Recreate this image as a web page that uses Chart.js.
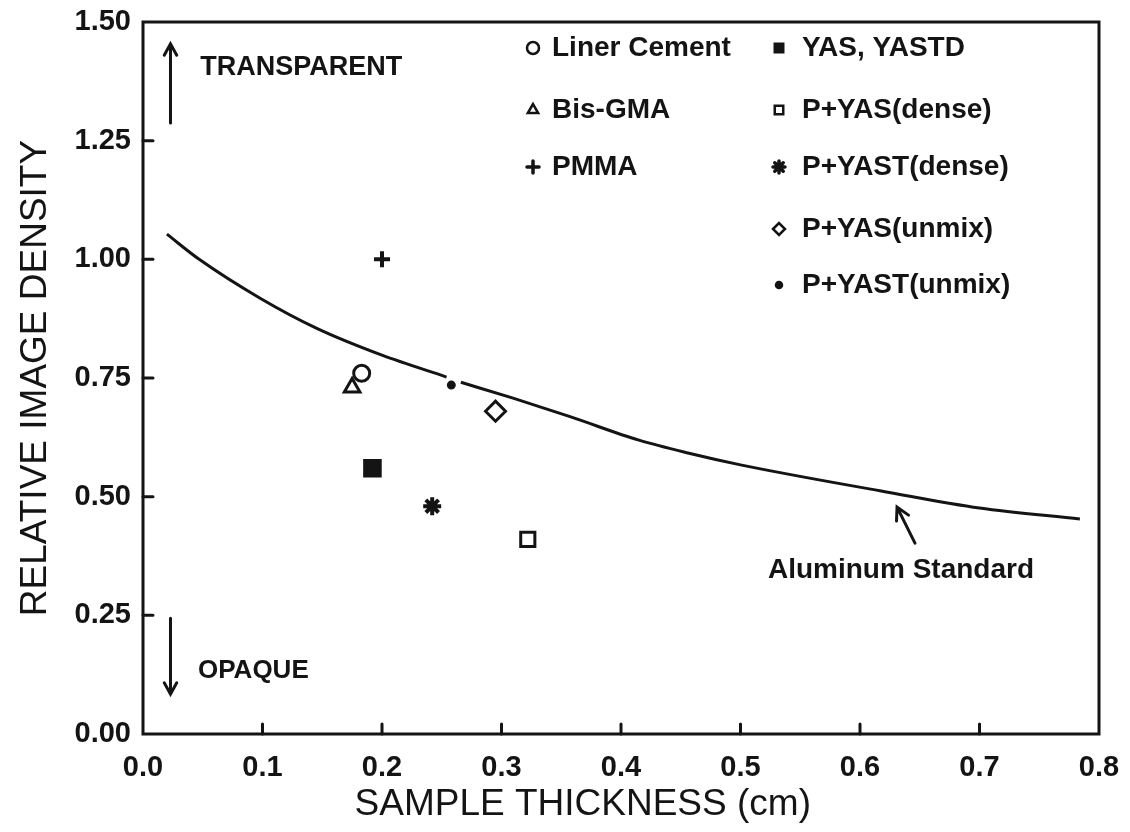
<!DOCTYPE html>
<html>
<head>
<meta charset="utf-8">
<title>Relative Image Density vs Sample Thickness</title>
<script src="https://cdn.jsdelivr.net/npm/chart.js@4.4.0/dist/chart.umd.min.js"></script>
<style>
  html, body { margin: 0; padding: 0; background: #fff; }
  #wrap { width: 1130px; height: 832px; }
</style>
</head>
<body>
<div id="wrap"><canvas id="densityChart" width="1130" height="832"></canvas></div>
<script>
// measured samples
const sampleNames = ["Liner Cement", "Bis-GMA", "PMMA", "YAS, YASTD", "P+YAS(dense)", "P+YAST(dense)", "P+YAS(unmix)", "P+YAST(unmix)"];
const sampleThickness = [0.183, 0.175, 0.200, 0.192, 0.322, 0.242, 0.295, 0.258];
const sampleDensity = [0.76, 0.73, 1.00, 0.56, 0.41, 0.48, 0.68, 0.735];

// aluminum step-wedge reference curve (null = break in the pen line)
const aluminumThickness = [0.02, 0.047, 0.098, 0.145, 0.20, 0.254, 0.26, 0.266, 0.309, 0.358, 0.415, 0.456, 0.50, 0.622, 0.70, 0.784];
const aluminumDensity = [1.053, 1.00, 0.918, 0.855, 0.798, 0.752, null, 0.741, 0.708, 0.668, 0.619, 0.592, 0.567, 0.51, 0.476, 0.453];

const xTicks = [0, 0.1, 0.2, 0.3, 0.4, 0.5, 0.6, 0.7, 0.8];
const yTicks = [0, 0.25, 0.5, 0.75, 1.0, 1.25, 1.5];

const ink = "#141414";
const tickFont = { family: "'Liberation Sans', Arial, sans-serif", size: 29, weight: "bold" };
const titleFont = { family: "'Liberation Sans', Arial, sans-serif", size: 37, weight: "normal" };

// marker look for each sample, same order as sampleNames
const markerStyles = [
  { pointStyle: "circle", radius: 8, fill: false },
  { pointStyle: "triangle", radius: 9, fill: false },
  { pointStyle: "cross", radius: 8, fill: true },
  { pointStyle: "rect", radius: 11, fill: true },
  { pointStyle: "rect", radius: 10, fill: false },
  { pointStyle: "star", radius: 9, fill: true },
  { pointStyle: "rectRot", radius: 10, fill: false },
  { pointStyle: "circle", radius: 3, fill: true }
];

// legend slots: [markerX, textX, y]
const legendSlots = [
  [533, 552, 48], [533, 552, 110], [533, 552, 167],
  [779, 802, 48], [779, 802, 110], [779, 802, 167], [779, 802, 229], [779, 802, 285]
];

const sampleSets = sampleNames.map((name, i) => ({
  type: "scatter",
  label: name,
  data: [{ x: sampleThickness[i], y: sampleDensity[i] }],
  pointStyle: markerStyles[i].pointStyle,
  pointRadius: markerStyles[i].radius,
  pointBorderWidth: markerStyles[i].pointStyle === "star" || markerStyles[i].pointStyle === "cross" ? 4 : 3,
  pointBorderColor: ink,
  pointBackgroundColor: markerStyles[i].fill ? ink : "#fff"
}));

const curveSet = {
  type: "line",
  label: "Aluminum Standard",
  data: aluminumThickness.map((t, i) => ({ x: t, y: aluminumDensity[i] })),
  borderColor: ink,
  borderWidth: 3,
  pointRadius: 0,
  cubicInterpolationMode: "monotone",
  spanGaps: false,
  fill: false
};

function arrow(ctx, x1, y1, x2, y2, head) {
  const ang = Math.atan2(y2 - y1, x2 - x1);
  ctx.beginPath();
  ctx.moveTo(x1, y1);
  ctx.lineTo(x2, y2);
  ctx.moveTo(x2 - head * Math.cos(ang - 0.5), y2 - head * Math.sin(ang - 0.5));
  ctx.lineTo(x2, y2);
  ctx.lineTo(x2 - head * Math.cos(ang + 0.5), y2 - head * Math.sin(ang + 0.5));
  ctx.stroke();
}

const decorPlugin = {
  id: "decor",
  afterDraw(chart) {
    const { ctx, chartArea: a, scales: { x, y } } = chart;
    ctx.save();
    ctx.strokeStyle = ink;
    ctx.fillStyle = ink;
    ctx.lineCap = "round";

    // box
    ctx.lineWidth = 3;
    ctx.strokeRect(a.left, a.top, a.right - a.left, a.bottom - a.top);

    // inward tick marks
    ctx.beginPath();
    xTicks.slice(1, -1).forEach(v => {
      const px = x.getPixelForValue(v);
      ctx.moveTo(px, a.bottom);
      ctx.lineTo(px, a.bottom - 10);
    });
    yTicks.slice(1, -1).forEach(v => {
      const py = y.getPixelForValue(v);
      ctx.moveTo(a.left, py);
      ctx.lineTo(a.left + 10, py);
    });
    ctx.stroke();

    // x axis title sits a little left of the plot centre
    ctx.textAlign = "center";
    ctx.textBaseline = "middle";
    ctx.font = `${titleFont.size}px ${titleFont.family}`;
    ctx.fillText("SAMPLE THICKNESS (cm)", x.getPixelForValue(0.368), 805);

    // direction notes
    arrow(ctx, x.getPixelForValue(0.023), y.getPixelForValue(1.287), x.getPixelForValue(0.023), y.getPixelForValue(1.454), 13);
    arrow(ctx, x.getPixelForValue(0.023), y.getPixelForValue(0.244), x.getPixelForValue(0.023), y.getPixelForValue(0.084), 13);
    arrow(ctx, x.getPixelForValue(0.646), y.getPixelForValue(0.402), x.getPixelForValue(0.631), y.getPixelForValue(0.478), 14);

    ctx.textAlign = "left";
    ctx.font = "bold 27px 'Liberation Sans', Arial, sans-serif";
    ctx.fillText("TRANSPARENT", x.getPixelForValue(0.048), y.getPixelForValue(1.403));
    ctx.font = "bold 26px 'Liberation Sans', Arial, sans-serif";
    ctx.fillText("OPAQUE", x.getPixelForValue(0.046), y.getPixelForValue(0.133));
    ctx.font = "bold 28px 'Liberation Sans', Arial, sans-serif";
    ctx.fillText("Aluminum Standard", x.getPixelForValue(0.523), y.getPixelForValue(0.345));

    // key
    sampleNames.forEach((name, i) => {
      const [mx, tx, ly] = legendSlots[i];
      const m = markerStyles[i];
      ctx.lineWidth = m.pointStyle === "star" || m.pointStyle === "cross" ? 3.5 : 2.5;
      ctx.fillStyle = m.fill ? ink : "#fff";
      Chart.helpers.drawPoint(ctx, {
        pointStyle: m.pointStyle,
        radius: m.pointStyle === "circle" && m.radius < 5 ? 3 : 6,
        rotation: 0,
        borderWidth: ctx.lineWidth
      }, mx, ly);
      ctx.fillStyle = ink;
      ctx.font = "bold 28px 'Liberation Sans', Arial, sans-serif";
      ctx.fillText(name, tx, ly);
    });
    ctx.restore();
  }
};

new Chart(document.getElementById("densityChart"), {
  data: { datasets: [curveSet, ...sampleSets] },
  options: {
    responsive: false,
    animation: false,
    devicePixelRatio: 1,
    layout: { padding: { top: 22, right: 31, left: 0, bottom: 0 } },
    plugins: { legend: { display: false }, tooltip: { enabled: false } },
    scales: {
      x: {
        type: "linear",
        min: 0,
        max: 0.8,
        afterBuildTicks: s => { s.ticks = xTicks.map(v => ({ value: v })); },
        afterFit: s => { s.height = 98; s.paddingLeft = 0; s.paddingRight = 0; },
        grid: { display: false, drawTicks: false },
        border: { display: false },
        ticks: { color: ink, font: tickFont, padding: 17, maxRotation: 0, callback: v => v.toFixed(1) },
        title: { display: false }
      },
      y: {
        type: "linear",
        min: 0,
        max: 1.5,
        afterBuildTicks: s => { s.ticks = yTicks.map(v => ({ value: v })); },
        afterFit: s => { s.width = 143; s.paddingTop = 0; s.paddingBottom = 0; },
        grid: { display: false, drawTicks: false },
        border: { display: false },
        ticks: { color: ink, font: tickFont, padding: 12, callback: v => v.toFixed(2) },
        title: { display: true, text: "RELATIVE IMAGE DENSITY", color: ink, font: titleFont, padding: { top: 14, bottom: 0 } }
      }
    }
  },
  plugins: [decorPlugin]
});
</script>
</body>
</html>
